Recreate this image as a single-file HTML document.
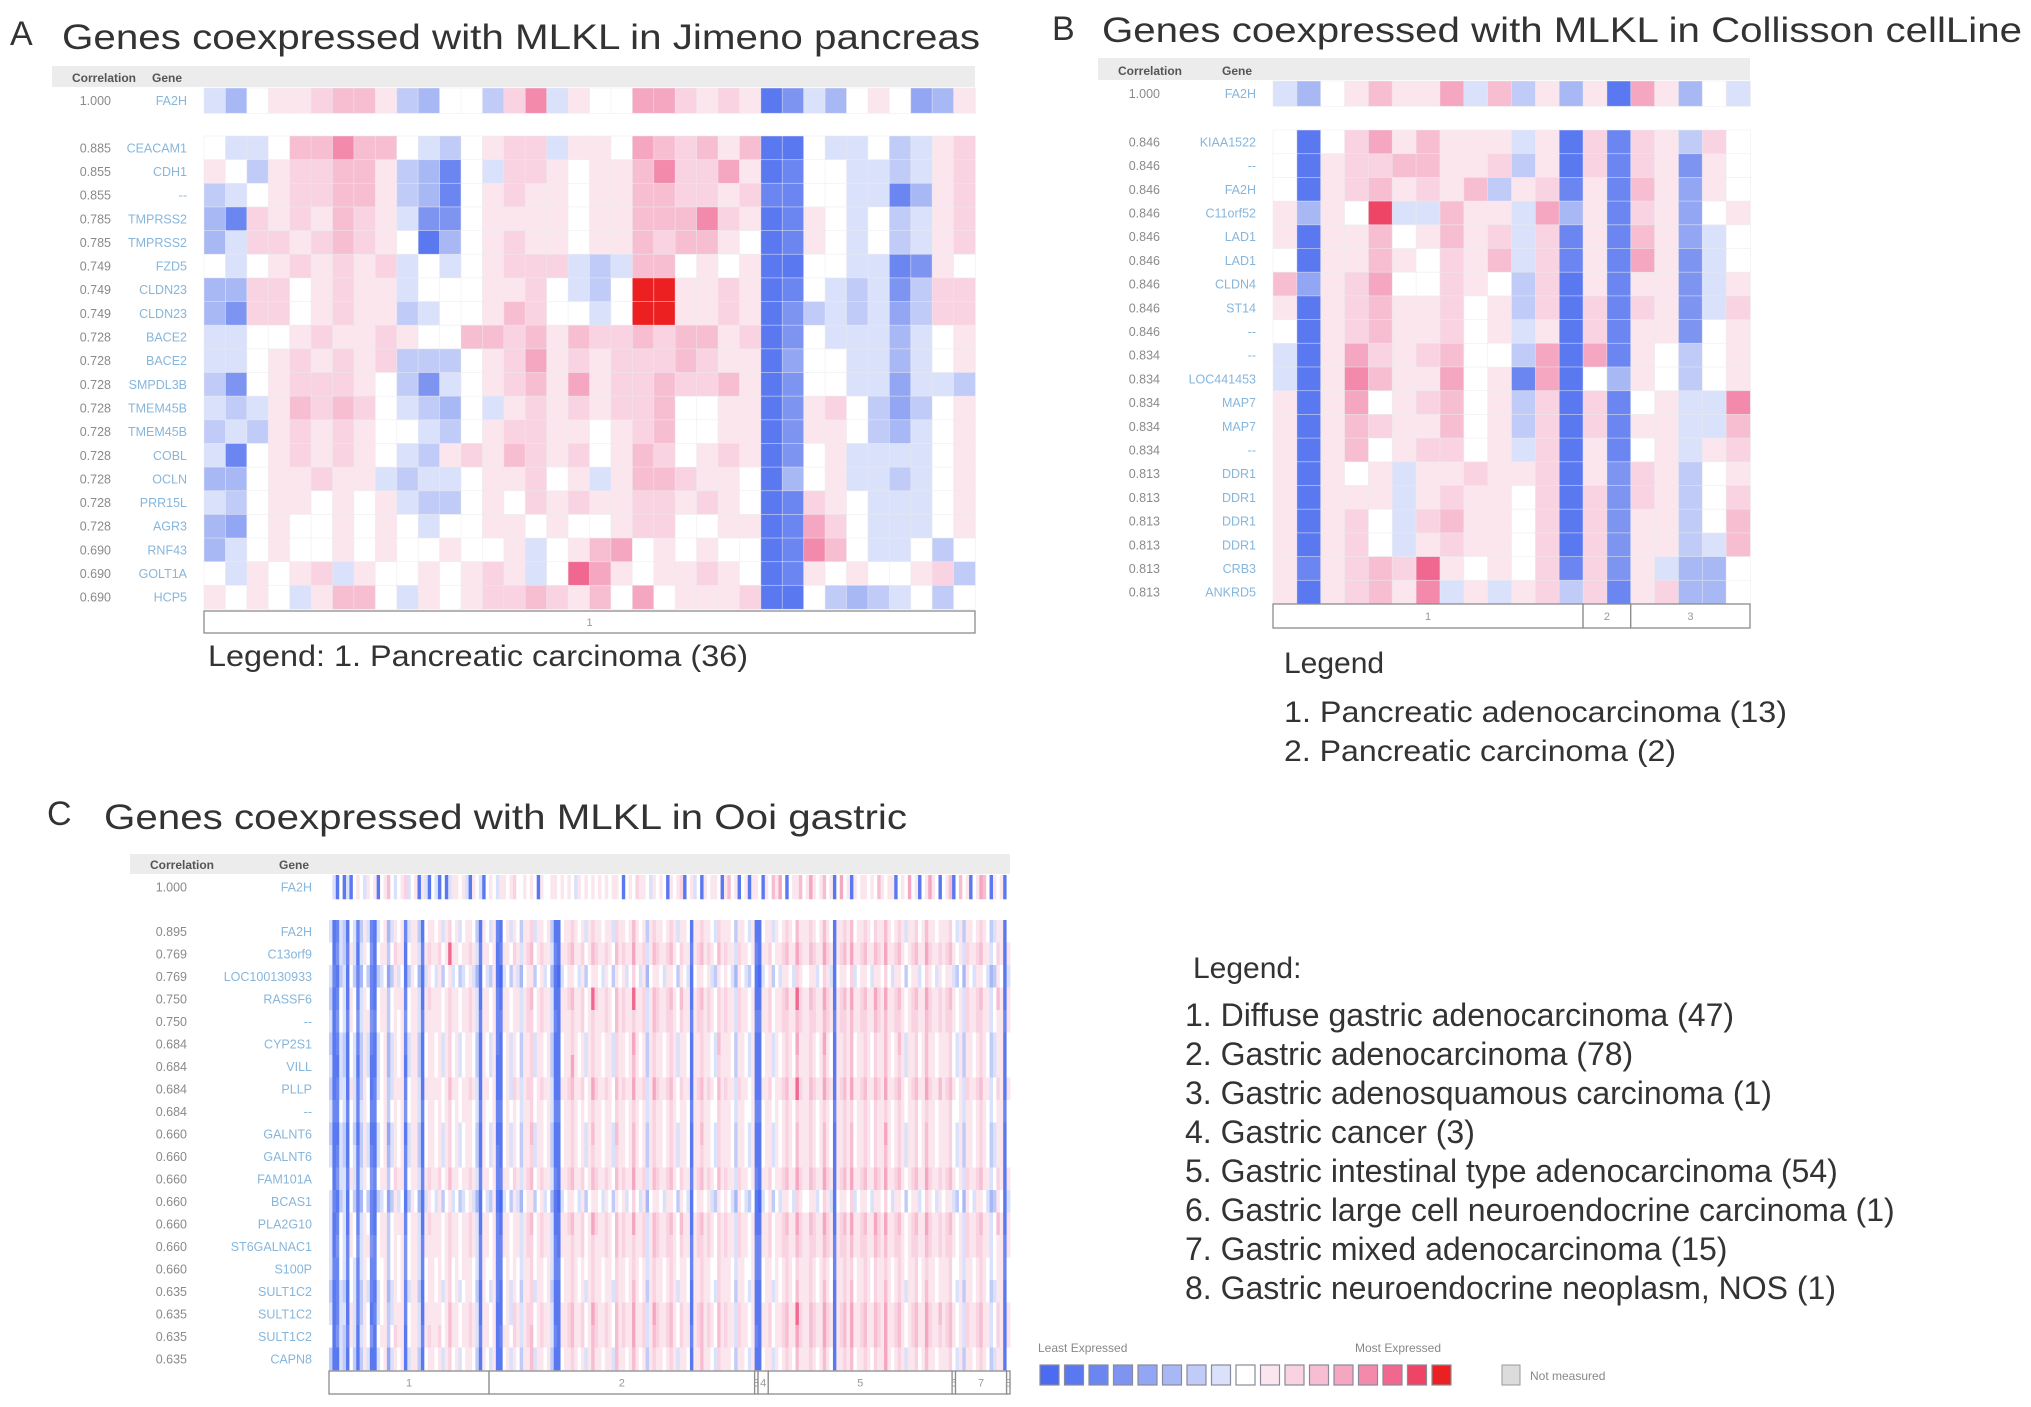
<!DOCTYPE html>
<html><head><meta charset="utf-8"><title>MLKL coexpression heatmaps</title>
<style>
html,body{margin:0;padding:0;background:#fff;}
svg{display:block;font-family:"Liberation Sans",Arial,sans-serif;}
.t{fill:#333;}
.corr{fill:#8a8a8a;font-size:12.5px;text-anchor:end;}
.gene{fill:#86b6dc;font-size:12.5px;text-anchor:end;}
.hdr{fill:#555;font-size:12px;font-weight:bold;}
</style></head>
<body>
<svg id="fig" width="2031" height="1407" viewBox="0 0 2031 1407" xmlns="http://www.w3.org/2000/svg">
<g id="panelA">
<text class="t" x="10" y="45" font-size="34">A</text>
<text class="t" x="62" y="49" font-size="35" textLength="918" lengthAdjust="spacingAndGlyphs">Genes coexpressed with MLKL in Jimeno pancreas</text>
<text class="t" x="208" y="666" font-size="30" textLength="540" lengthAdjust="spacingAndGlyphs">Legend: 1. Pancreatic carcinoma (36)</text>
</g>
<g id="panelB">
<text class="t" x="1052" y="40" font-size="34">B</text>
<text class="t" x="1102" y="42" font-size="35" textLength="920" lengthAdjust="spacingAndGlyphs">Genes coexpressed with MLKL in Collisson cellLine</text>
<text class="t" x="1284" y="673" font-size="30">Legend</text>
<text class="t" x="1284" y="722" font-size="30" textLength="503" lengthAdjust="spacingAndGlyphs">1. Pancreatic adenocarcinoma (13)</text>
<text class="t" x="1284" y="761" font-size="30" textLength="392" lengthAdjust="spacingAndGlyphs">2. Pancreatic carcinoma (2)</text>
</g>
<g id="panelC">
<text class="t" x="47" y="825" font-size="34">C</text>
<text class="t" x="104" y="829" font-size="35" textLength="803" lengthAdjust="spacingAndGlyphs">Genes coexpressed with MLKL in Ooi gastric</text>
<text class="t" x="1193" y="978" font-size="30">Legend:</text>
<g id="legC"></g>
</g>
<g id="scale">
<text x="1038" y="1352" font-size="12" fill="#888">Least Expressed</text>
<text x="1355" y="1352" font-size="12" fill="#888">Most Expressed</text>
<rect x="1502" y="1365" width="18" height="20" fill="#dcdcdc" stroke="#999"/>
<text x="1530" y="1380" font-size="12" fill="#888">Not measured</text>
</g>
</svg>
<script>
// expression levels: A = least expressed (strong blue), I = white, Q = most expressed (red)
const palette = ["#4b6cf0","#5a78f0","#6b86f0","#7d95f1","#92a6f3","#a8b8f5","#c0cbf7","#dae1fa","#ffffff","#fbe6ee","#f9d3e1","#f7bed2","#f5a6c1","#f38aac","#f06890","#ee4466","#ec2020"];

const genesA = ["FA2H","CEACAM1","CDH1","--","TMPRSS2","TMPRSS2","FZD5","CLDN23","CLDN23","BACE2","BACE2","SMPDL3B","TMEM45B","TMEM45B","COBL","OCLN","PRR15L","AGR3","RNF43","GOLT1A","HCP5"];
const corrA = ["1.000","0.885","0.855","0.855","0.785","0.785","0.749","0.749","0.749","0.728","0.728","0.728","0.728","0.728","0.728","0.728","0.728","0.728","0.690","0.690","0.690"];
const levelsA = [
"HFIJJKLLJGFIIGKNHJIIMMKJKJBDHFIJIEFJ",
"IHHILLNLLIHGIJKKHJJIMLKLJLBBIHHIGHJK",
"JIGJKKLLJGFCIHKKJIJJLNKKMJBCIIHHGHJK",
"GHIJKKLLJGFCIJKJJIJJLLKKJKCCIIHHCFJK",
"FCKJKJLKJHDDIJJJJIJJLLLNKJBCJIHIGHJK",
"FHKKJKLKJIBFIJKJJIJJLKLLJIBCJIHIGHJK",
"IHIJKJKJKHIHIJKKKHGHLLIJIJBBIIHHCDJI",
"FFKKIJKJJHIIIJJKIHGIQQJJKJBCIHGHDGKK",
"FDKKIJKJJGHIIJLKIIHIQQJJKJBDGHGHEGKK",
"HHIIJKJJKJIILLKLJLKKLKLLJKBDIHHHFHIJ",
"HHIJKJKJKGGGIJKMJKJKKKLKJJBEIIHHFHIJ",
"GDIJKKKJIGDHIJKLJMJKKLKKLJBDIIHHEHHG",
"HGHJLKLKIHGFIHJKJKJKKLIIJJBDJKIGEGIJ",
"GHGJKJKJIIHGIJKKJJIJKLIIJJBDJJIGFHIJ",
"HCIJKJKJIHGJKJLKJKIJLKIJKJBDIJHHHHIJ",
"FFIJJKJJHGHHIJJKIJHJLLKJJIBFIJHHGHIJ",
"HGIJJIJIJHGGIJIKJKJJKKJKJIBCKJIHHHIJ",
"FEIJIIJIJIHIIJJIJIIJKKIIJJBCMKIHHHIJ",
"FHIJIIJIJIIJIIJHIJLMIJIJIIBCNLIHHIGI",
"IHJIJKHJIIJIJKJHIOMJIJJKJIBCJIJIIJKG",
"JIJIHJLLIHJIJKKLKJLIMIJJJKBBIGFGHIGI"];
const groupsA = [36];

const genesB = ["FA2H","KIAA1522","--","FA2H","C11orf52","LAD1","LAD1","CLDN4","ST14","--","--","LOC441453","MAP7","MAP7","--","DDR1","DDR1","DDR1","DDR1","CRB3","ANKRD5"];
const corrB = ["1.000","0.846","0.846","0.846","0.846","0.846","0.846","0.846","0.846","0.846","0.834","0.834","0.834","0.834","0.834","0.813","0.813","0.813","0.813","0.813","0.813"];
const levelsB = [
"HFIJLJJMHLGJFJBMJFIH",
"IBIKMJLJJJHJBKCKJGKI",
"IBJKKLLJJKGJBKCKJDJI",
"IBJKLJKJLGJKCJCLJEJI",
"JFJIPHHLJJHMFJCKJEIJ",
"JBJJLIJLJKHKCJCLJEHI",
"IBJJLJIKJLHKCJCMJDHI",
"LEJKMIIKJIGKBJCJJDHJ",
"JBJKLJJKIJGKBKCKJDHK",
"IBJKLJJKIJHJBKCJJDIJ",
"HBJMKJKLIIGMBMCJIGIJ",
"HBJNLJJMIJCMBIFJIGIJ",
"JBJMIJKLIJGKBKCIJHHN",
"JBJLKJJLIJGKBKCJJHHL",
"JBJLIJKKIJHKBJCIJHJK",
"JBJIJHJJKJJKBJDKJGIJ",
"JBJJJHJKJJIKBKDKJGIK",
"JBJKIHKLJJIKBKDJJGIL",
"JBJKIHJKJJIKBKDJJGHL",
"JCJKLKOJIJIKCKDJHFFI",
"JBJKLJNHJHJKGKCJKFFI"];
const groupsB = [13,2,5];

const genesC = ["FA2H","FA2H","C13orf9","LOC100130933","RASSF6","--","CYP2S1","VILL","PLLP","--","GALNT6","GALNT6","FAM101A","BCAS1","PLA2G10","ST6GALNAC1","S100P","SULT1C2","SULT1C2","SULT1C2","CAPN8"];
const corrC = ["1.000","0.895","0.769","0.769","0.750","0.750","0.684","0.684","0.684","0.684","0.660","0.660","0.660","0.660","0.660","0.660","0.660","0.635","0.635","0.635","0.635"];
const levelsC = [
"IHBIBHBIJI HKIJBIJMIH IJLHIJBJHB IHBIBHJKIJ HBJIHBIJIH KJIJLIIJIJ IBJIIJKIJI JIHKIJIJIJ IJIKJIBIJI LJKIHJIJIB JIKLBIJHIB JIKJIBJMIJ BIJBKJIBJI MJNIBIJKMI JNKIJMIJBI NIJBJIKJIJ IMJIJKBIJI NIJBIKNJIB IJMBIMIJBI JNMIBJIJBI",
"HBCHGBIHCG JHCBHIJFHK IJCHKJGBIK JIKHJLIJHI JKIGBJIHKC BIJHKIGJKL HJKIJGBBIJ KLJIKHJLKJ IKJHLJKIJM JIKGJLKJIK LJHKJIBJKL JKIHLJKJIG KJIHJBBIJK HJIKLJIMKJ JLKIJMKIBJ KLJMIJKLJI LKJMJIKLJH JKLIJMKJIK JKLIHJGKJI KLJIGHKJBI",
"IBDHGCJHBH KIDBIJKGIL JKBIJKHCJL KJLIKOJKIJ KLJHCKJIJB CJKILJHKLM IKLJKHCBJK LMKJLIKMLK JLKIMKLJKN KJLHKMLKJL MKILKJCKLM KLJIMKLKJH LKJIKCBJKL IKJLMKJNLK KMLJKNLJBK LMKNJKLMKJ MLKNKJLMKI KLMJKNLKJL KLMJIKHLKJ LMKJHILKBJ",
"HCBGHBIGCF IGCBGHIEGJ HIBGJIFBHJ IHJGIKHIGH IJHFBIHGJB AHIGJHFIJK GIJHIFBAHI JKIHJGIKJI HJIGKIJHIL IHJFIKJIHJ KIGJIHBIJK IJHGKIJIHF JIHGIBAHIJ GIHJKIHLJI IKJHILJHBI JKILHIJKIH KJILIHJKIG IJKHILJIHJ IJKHGIFJIH JKIHFGJIBH",
"GBCIHBJICH KICBIJKGIK JKCIJKHBJL KJKIKLJKIJ KLJHBKJIJC BJKIKJHKLM IKLJKHBBJK LMKJLIKOLK JLKIMKLJKO KJLHKMLKJL MKIMKJBKLM KLJILKLKJH LKJIKBBJKL IKJLMKJOLK KMLJKNLJBK LMKNJKLMKJ NLKNKJLMKI KLMJKNLKJL KLMJIKHLKJ LMKJHIMKBJ",
"HBDIHCJIDH KJDCIJKGIK IKDIJKHCJK KJKIKLJKIJ KLJHCKJIJC CJKIKJHKLL IKLJKHCBJK KLKJLIKLKK JLKIMKLJKL KJLHKMLKJL LKILKJCKLL KLJILKLKJH LKJIKCCJKL IKJLLKJMLK KLLJKMLJCK LLKMJKLLKJ MLKMKJLLKI KLLJKMLKJL KLLJIKHLKJ LLKJHIKKCJ",
"GBCHGBIHCG JHCBHIJFHK IJCHKJGBIK JIKHJLIJHI JKIGBJIHKC BIJHKIGJKL HJKIJGBBIJ KLJIKHJLKJ IKJHLJKIJN JIKGJLKJIK LJHKJIBJKL JKIHMJKJIG KJIHJBBIJK HJIKLJINKJ JLKIJNKIBJ KLJMIJKLJI LKJMJIKMJH JKLIJMKJIK JKLIHJGKJI KLJIGHKJBI",
"HBBHGBIHBG JHBBHIJFHK IJBHKJGBIK JIKHJLIJHI JKIGBJIHKB BIJHKIGJKL HJKIJGBBIJ KNJIKHJLKJ IKJHLJKIJM JIKGJLKJIK LJHKJIBJKL JKIHLJKJIG KJIHJBBIJK HJIKLJIMKJ JLKIJMKIBJ KLJMIJKLJI LKJMJIKLJH JKLIJMKJIK JKLIHJGKJI KLJIGHKJBI",
"GBCHHBJHCG KIBCHIKGHK JKCIKJHBJK KJKIKMJKIJ KLJHBKJIKB BIKHLJHKLL IKLJKHBBJK LMKJLIKNLK JLKIMKLJKN KJLHKNLKJL MKILKJBKLM KLJIMKLKJH LKJIKBBJKL IKJLMKJOLK KMLJKNLJBK LMKNJKLMKJ MLKNKJLMKI KLMJKNLKJM KLMJIKHLKJ LMKJHILKBJ",
"HCCIHCIHCH JICCIIJGIK IJDIJJHCIK JIKIJLIJIJ JKIHCJIIKC CIJIKIHJKL IJKIJHCCIJ KLJIKIJLKJ IKJILJKIJL JIKHJLKJIK LJIKJICJKL JKIILJKJIH KJIIJCCIJK IJIKLJILKJ JLKIJLKICJ KLJLIJKLJI LKJLJIKLJI JKLIJLKJIK JKLIIJHKJI KLJIHIKJCI",
"GBBHGBIGBG JHBBHIJEHK IJBHKJGBIK JIKHJLIJHI JKIGBJIHKB BIJHKIGJKM HJKIJGBBIJ KLJIKHJMKJ IKJHMJKIJM JIKGJLKJIK LJHKJIBJKM JKIHLJKJIG KJIHJBBIJK HJIKLJIMKJ JLKIJMKIBJ KLJMIJKLJI LKJNJIKLJH JKLIJMKJIK JKLIHJGKJI KLJIGHKJBI",
"HBCHGBIHCG JHCBHIJFHK IJCHKJGBIK JIKHJLIJHI JKIGBJIHKC BIJHKIGJKL HJKIJGBBIJ KLJIKHJLKJ IKJHLJKIJM JIKGJLKJIK LJHKJIBJKL JKIHLJKJIG KJIHJBBIJK HJIKLJIMKJ JLKIJMKIBJ KLJMIJKLJI LKJMJIKLJH JKLIJMKJIK JKLIHJGKJI KLJIGHKJBI",
"IBDHHCJHCH KIDCIJKGIL JKCIJKHCJL KJLIKMJKIJ KLJHCKJIJC CJKILJHKLM IKLJKHCBJK LMKJLIKMLK JLKIMKLJKN KJLHKMLKJL MKILKJCKLM KLJIMKLKJH LKJIKCBJKL IKJLMKJNLK KMLJKNLJBK LMKNJKLMKJ MLKNKJLMKI KLMJKNLKJL KLMJIKHLKJ LMKJHILKBJ",
"HCBGHBIGCF IGCBGHIEGJ HIBGJIFBHJ IHJGIKHIGH IJHFBIHGJB AHIGJHFIJK GIJHIFBAHI JKIHJGIKJI HJIGKIJHIL IHJFIKJIHJ KIGJIHBIJK IJHGKIJIHF JIHGIBAHIJ GIHJKIHLJI IKJHILJHBI JKILHIJKIH KJILIHJKIG IJKHILJIHJ IJKHGIFJIH JKIHFGJIBH",
"HBCIHBJICH KICBIJKGIK JKCIJKHBJL KJKIKLJKIJ KLJHBKJIJC BJKIKJHKLM IKLJKHBBJK LMKJLIKNLK JLKIMKLJKN KJLHKMLKJL MKIMKJBKLM KLJILKLKJH LKJIKBBJKL IKJLMKJNLK KMLJKNLJBK LMKNJKLMKJ NLKNKJLMKI KLMJKNLKJL KLMJIKHLKJ LMKJHIMKBJ",
"HBDIHCJIDH KJDCIJKGIK IKDIJKHCJK KJKIKLJKIJ KLJHCKJIJC CJKIKJHKLL IKLJKHCBJK KLKJLIKLKK JLKIMKLJKL KJLHKMLKJL LKILKJCKLL KLJILKLKJH LKJIKCCJKL IKJLLKJMLK KLLJKMLJCK LLKMJKLLKJ MLKMKJLLKI KLLJKMLKJL KLLJIKHLKJ LLKJHIKKCJ",
"HCCIHCIHCH JICCIIJGIK IJDIJJHCIK JIKIJLIJIJ JKIHCJIIKC CIJIKIHJKL IJKIJHCCIJ KLJIKIJLKJ IKJILJKIJL JIKHJLKJIK LJIKJICJKL JKIILJKJIH KJIIJCCIJK IJIKLJILKJ JLKIJLKICJ KLJLIJKLJI LKJLJIKLJI JKLIJLKJIK JKLIIJHKJI KLJIHIKJCI",
"GBCHGBIHCG JHCBHIJFHK IJCHKJGBIK JIKHJLIJHI JKIGBJIHKC BIJHKIGJKL HJKIJGBBIJ KLJIKHJLKJ IKJHLJKIJM JIKGJLKJIK LJHKJIBJKL JKIHLJKJIG KJIHJBBIJK HJIKLJIMKJ JLKIJMKIBJ KLJMIJKLJI LKJMJIKLJH JKLIJMKJIK JKLIHJGKJI KLJIGHKJBI",
"HBCHHBJHCG KIBCHIKGHK JKCIKJHBJK KJKIKMJKIJ KLJHBKJIKB BIKHLJHKLL IKLJKHBBJK LMKJLIKNLK JLKIMKLJKN KJLHKNLKJL MKILKJBKLM KLJIMKLKJH LKJIKBBJKL IKJLMKJOLK KMLJKNLJBK LMKNJKLMKJ MLKNKJLMKI KLMJKNLKJM KLMJIKHLKJ LMKJHILKBJ",
"IBDHGCJHBH KIDBIJKGIL JKBIJKHCJL KJLIKMJKIJ KLJHCKJIJB CJKILJHKLM IKLJKHCBJK LMKJLIKMLK JLKIMKLJKN KJLHKMLKJL MKILKJCKLM KLJIMKLKJH LKJIKCBJKL IKJLMKJNLK KMLJKNLJBK LMKNJKLMKJ MLKNKJLMKI KLMJKNLKJL KLMJIKHLKJ LMKJHILKBJ",
"GBBHGBIGBG JHBBHIJEHK IJBHKJGBIK JIKHJLIJHI JKIGBJIHKB BIJHKIGJKM HJKIJGBBIJ KLJIKHJMKJ IKJHMJKIJM JIKGJLKJIK LJHKJIBJKM JKIHLJKJIG KJIHJBBIJK HJIKLJIMKJ JLKIJMKIBJ KLJMIJKLJI LKJNJIKLJH JKLIJMKJIK JKLIHJGKJI KLJIGHKJBI"];
const groupsC = [47,78,1,3,54,1,15,1];

const legendItemsC = ["1. Diffuse gastric adenocarcinoma (47)","2. Gastric adenocarcinoma (78)","3. Gastric adenosquamous carcinoma (1)","4. Gastric cancer (3)","5. Gastric intestinal type adenocarcinoma (54)","6. Gastric large cell neuroendocrine carcinoma (1)","7. Gastric mixed adenocarcinoma (15)","8. Gastric neuroendocrine neoplasm, NOS (1)"];
const scaleLevels = "ABCDEFGHIJKLMNOPQ";

const NS = "http://www.w3.org/2000/svg";
const svg = document.getElementById("fig");
function mk(tag, attrs, parent) {
  const e = document.createElementNS(NS, tag);
  for (const k in attrs) e.setAttribute(k, attrs[k]);
  parent.appendChild(e);
  return e;
}
function lvl(ch) { const i = ch.charCodeAt(0) - 65; return Math.max(0, Math.min(16, i)); }

function drawHeatmap(p) {
  const g = document.getElementById(p.id);
  const ncols = p.groups.reduce((a, b) => a + b, 0);
  const xs = c => p.x0 + (p.x1 - p.x0) * c / ncols;
  const cw = (p.x1 - p.x0) / ncols;
  const hb = mk("rect", {x: p.hx, y: p.hy0, width: p.x1 - p.hx, height: p.hy1 - p.hy0, fill: "#ececec"}, g);
  
  
  const h1 = mk("text", {x: p.hcx, y: p.hy1 - 5, class: "hdr"}, g);
  h1.textContent = "Correlation";
  
  
  const h2 = mk("text", {x: p.hgx, y: p.hy1 - 5, class: "hdr"}, g);
  h2.textContent = "Gene";
  
  
  const rowH = (p.gy1 - p.gy0) / (p.levels.length - 1);
  p.levels.forEach((raw, r) => {
    const s = raw.replace(/\s+/g, "");
    let y, h;
    if (r === 0) { y = p.ty0; h = p.ty1 - p.ty0; } else { y = p.gy0 + (r - 1) * rowH; h = rowH; }
    const rowG = mk("g", {}, g);
    
    
    for (let c = 0; c < ncols; c++) {
      const ch = c < s.length ? s[c] : "I";
      let L = lvl(ch);
      if (p.soft && L >= 10 && L <= 13) L -= 1;
      const cell = mk("rect", {x: xs(c), y: y, width: cw + 0.4, height: h + 0.3, fill: palette[L]}, rowG);
      if (p.stroke) { cell.setAttribute("stroke", "rgba(235,235,240,0.6)"); cell.setAttribute("stroke-width", "0.8"); }
      
      
    }
    const ct = mk("text", {x: p.cx, y: y + h / 2 + 4.5, class: "corr"}, g);
    ct.textContent = p.corr[r];
    
    
    const gt = mk("text", {x: p.gx, y: y + h / 2 + 4.5, class: "gene"}, g);
    gt.textContent = p.genes[r];
    
    
  });
  let acc = 0;
  p.groups.forEach((n, i) => {
    const bx = xs(acc), bw = xs(acc + n) - bx;
    const br = mk("rect", {x: bx, y: p.by0, width: bw, height: p.by1 - p.by0, fill: "#fff", stroke: "#8c8c8c", "stroke-width": 1.3}, g);
    
    
    const bt = mk("text", {x: bx + bw / 2, y: (p.by0 + p.by1) / 2 + 4, "font-size": 11, fill: "#999", "text-anchor": "middle"}, g);
    bt.textContent = String(i + 1);
    
    
    acc += n;
  });
}

drawHeatmap({id: "panelA", levels: levelsA, genes: genesA, corr: corrA, groups: groupsA,
  x0: 204, x1: 975, hx: 52, hy0: 66, hy1: 87, hcx: 72, hgx: 152, ty0: 88, ty1: 113, gy0: 136, gy1: 609,
  cx: 111, gx: 187, by0: 611, by1: 633, stroke: true});
drawHeatmap({id: "panelB", levels: levelsB, genes: genesB, corr: corrB, groups: groupsB,
  x0: 1273, x1: 1750, hx: 1098, hy0: 58, hy1: 80, hcx: 1118, hgx: 1222, ty0: 81, ty1: 106, gy0: 130, gy1: 604,
  cx: 1160, gx: 1256, by0: 604, by1: 628, stroke: true});
drawHeatmap({id: "panelC", levels: levelsC, genes: genesC, corr: corrC, groups: groupsC,
  x0: 329, x1: 1010, hx: 130, hy0: 854, hy1: 874, hcx: 150, hgx: 279, ty0: 875, ty1: 899, gy0: 920, gy1: 1370,
  cx: 187, gx: 312, by0: 1371, by1: 1394, stroke: false, soft: true});

const legC = document.getElementById("legC");
legendItemsC.forEach((t, i) => {
  const e = mk("text", {x: 1185, y: 1026 + i * 39, "font-size": 32, class: "t"}, legC);
  e.textContent = t;
  
  
});

const sc = document.getElementById("scale");
for (let i = 0; i < scaleLevels.length; i++) {
  const r = mk("rect", {x: 1040 + i * 24.5, y: 1365, width: 19, height: 20, fill: palette[lvl(scaleLevels[i])], stroke: "#8a8a9a", "stroke-width": 1.2}, sc);
  
  
}
</script>
</body></html>
